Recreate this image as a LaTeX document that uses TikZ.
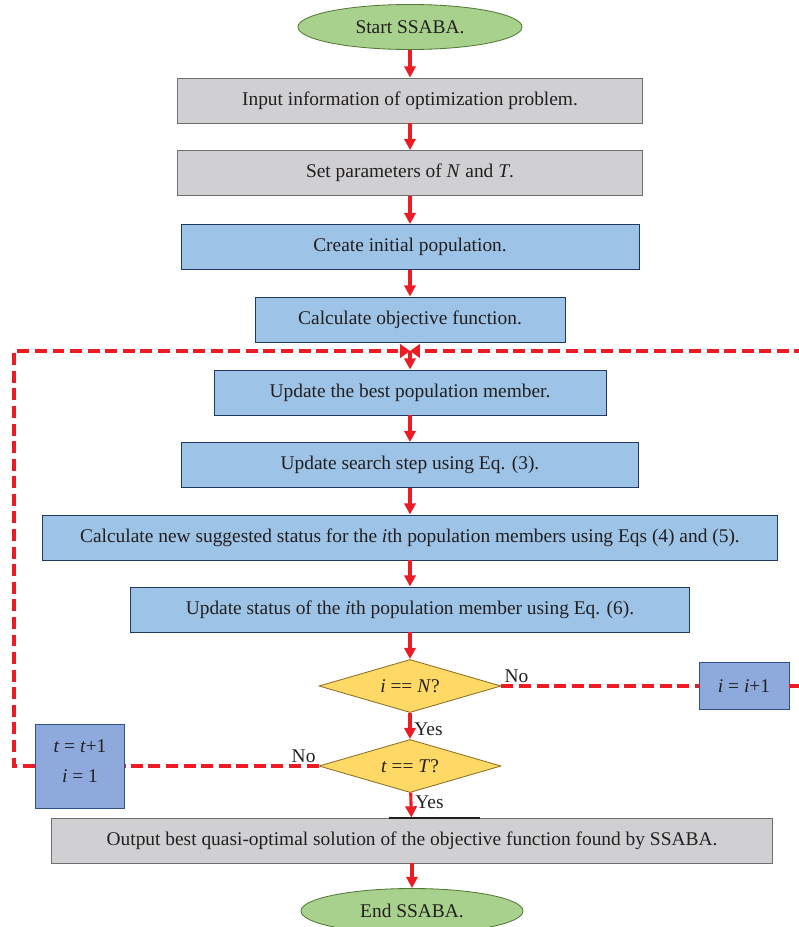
\documentclass[tikz,border=0pt]{standalone}
\usepackage{fontspec}
\setmainfont{Liberation Serif}
\usetikzlibrary{shapes.geometric,arrows.meta}

\definecolor{flowred}{RGB}{237,28,36}
\definecolor{txt}{RGB}{35,31,32}
\definecolor{termfill}{RGB}{169,209,142}
\definecolor{termline}{RGB}{84,120,53}
\definecolor{grayfill}{RGB}{208,208,210}
\definecolor{grayline}{RGB}{110,110,110}
\definecolor{bluefill}{RGB}{157,195,230}
\definecolor{blueline}{RGB}{31,56,100}
\definecolor{loopfill}{RGB}{142,169,219}
\definecolor{loopedge}{RGB}{47,82,143}
\definecolor{decfill}{RGB}{255,217,102}
\definecolor{decline}{RGB}{140,110,40}

\tikzset{
  base/.style={draw, line width=0.6pt, text=txt, font=\fontsize{13.8}{17}\selectfont,
    minimum height=1.125cm, inner sep=2pt, align=center},
  term/.style={base, ellipse, fill=termfill, draw=termline, minimum width=5.6cm},
  graybox/.style={base, rectangle, fill=grayfill, draw=grayline},
  bluebox/.style={base, rectangle, fill=bluefill, draw=blueline},
  loopbox/.style={base, rectangle, fill=loopfill, draw=loopedge},
  decision/.style={base, diamond, aspect=3.4, fill=decfill, draw=decline,
    minimum width=4.55cm, minimum height=1.325cm, inner sep=0pt},
  flow/.style={->, flowred, line width=2.2pt},
  dashloop/.style={flowred, line width=2.8pt, dash pattern=on 8.5pt off 4pt},
  lbl/.style={text=txt, font=\fontsize{13.8}{17}\selectfont, inner sep=2pt}
}

\begin{document}
\begin{tikzpicture}[x=0.025cm, y=-0.025cm, >={Triangle[length=8pt,width=8pt]}]
    \useasboundingbox (0,0) rectangle (799,927);

    \node[term] (start) at (410,27) {Start SSABA.};
    \node[graybox, minimum width=11.625cm] (input) at (410,100.5) {Input information of optimization problem.};
    \node[graybox, minimum width=11.625cm] (params) at (410,173) {Set parameters of \textit{N} and \textit{T}.};
    \node[bluebox, minimum width=11.45cm] (init) at (410,247) {Create initial population.};
    \node[bluebox, minimum width=7.75cm] (objfun) at (410,319.5) {Calculate objective function.};
    \node[bluebox, minimum width=9.8cm] (best) at (410,392.5) {Update the best population member.};
    \node[bluebox, minimum width=11.425cm] (step) at (410,465) {Update search step using Eq. (3).};
    \node[bluebox, minimum width=18.375cm] (suggest) at (410,537.5) {Calculate new suggested status for the \textit{i}th population members using Eqs (4) and (5).};
    \node[bluebox, minimum width=13.975cm] (status) at (410,609.5) {Update status of the \textit{i}th population member using Eq. (6).};
    \node[decision] (checkN) at (410,686) {\textit{i} == \textit{N}?};
    \node[loopbox, minimum width=2.25cm, minimum height=1.175cm] (incI) at (744,686) {\textit{i} = \textit{i}+1};
    \node[decision] (checkT) at (410,766) {\textit{t} == \textit{T}?};
    \node[loopbox, minimum width=2.225cm, minimum height=2.1cm] (incT) at (80,766) {\textit{t} = \textit{t}+1\\[4pt]\textit{i} = 1\\[-10pt]};
    \node[graybox, minimum width=18cm] (output) at (412,840.5) {Output best quasi-optimal solution of the objective function found by SSABA.};
    \node[term, minimum width=5.55cm] (finish) at (412,911) {End SSABA.};

    \coordinate (merge) at (410,351);
    \coordinate (ltop) at (14,351);
    \coordinate (lbot) at (14,766);
    \coordinate (rtop) at (815,351);
    \coordinate (rbot) at (815,686);

    \draw[flow] (start) -- (input);
    \draw[flow] (input) -- (params);
    \draw[flow] (params) -- (init);
    \draw[flow] (init) -- (objfun);
    \draw[flow] (merge) -- (best.north);
    \draw[flow] (best) -- (step);
    \draw[flow] (step) -- (suggest);
    \draw[flow] (suggest) -- (status);
    \draw[flow] (status) -- (checkN);
    \draw[flow] (checkN) -- (checkT) node[midway, right, lbl, yshift=-2pt] {Yes};
    \draw[flow] (checkT) -- (output) node[midway, right, lbl, yshift=2pt] {Yes};
    \draw[flow] (output) -- (finish);

    \draw[dashloop] (checkN.east) -- (incI.west);
    \draw[dashloop, -{Triangle[length=7pt,width=9.5pt]}] (incI.east) -- (rbot) -- (rtop) -- (merge);
    \draw[dashloop] (checkT.west) -- (incT.east);
    \draw[dashloop, -{Triangle[length=7pt,width=9.5pt]}] (incT.west) -- (lbot) -- (ltop) -- (merge);

    \node[lbl, above right] (noN) at (checkN.east) {No};
    \node[lbl, above left] (noT) at (checkT.west) {No};

    \draw[line width=1.2pt, txt] (389,818) -- (480,818);
\end{tikzpicture}
\end{document}
